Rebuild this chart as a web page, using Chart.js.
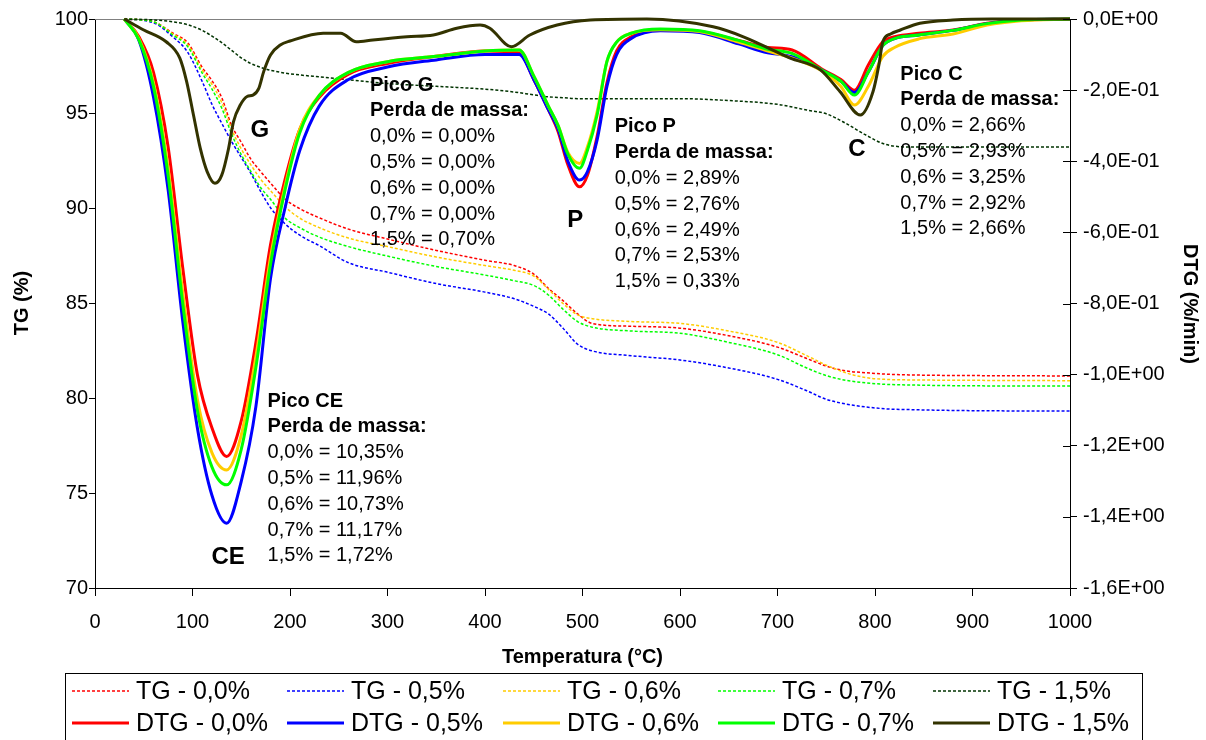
<!DOCTYPE html>
<html lang="pt">
<head>
<meta charset="UTF-8">
<title>TG / DTG</title>
<script src="https://cdn.jsdelivr.net/npm/chart.js@4"></script>
<style>
  body { margin: 0; background: #fff; }
  canvas { display: block; }
</style>
</head>
<body>
<canvas id="tgChart" width="1206" height="740"></canvas>
<script>
// TG curves (left axis, %)
const tgTemps = [30, 60, 80, 95, 110, 120, 130, 140, 150, 160, 170, 180, 195, 210, 230, 260, 300, 350, 400, 430,
                 450, 465, 480, 495, 510, 550, 600, 650, 700, 730, 750, 770, 790, 810, 840, 900, 1000];
const tg00 = [100, 99.85, 99.25, 98.75, 97.45, 96.75, 95.85, 94.4, 93.5, 92.6, 91.95, 91.35, 90.5, 90.0, 89.52, 88.92, 88.4, 87.8, 87.28, 87.0,
              86.55, 85.8, 85.15, 84.45, 83.95, 83.8, 83.7, 83.3, 82.7, 82.1, 81.7, 81.45, 81.35, 81.28, 81.23, 81.2, 81.18];
const tg05 = [100, 99.8, 99.05, 98.25, 96.7, 95.5, 94.5, 93.55, 92.7, 91.85, 90.9, 90.05, 89.2, 88.6, 88.05, 87.15, 86.65, 86.05, 85.6, 85.25,
              84.85, 84.45, 83.7, 82.85, 82.5, 82.25, 82.02, 81.6, 81.0, 80.4, 79.95, 79.7, 79.55, 79.45, 79.4, 79.35, 79.33];
const tg06 = [100, 99.85, 99.2, 98.65, 97.3, 96.55, 95.6, 94.2, 93.15, 92.3, 91.55, 90.95, 90.1, 89.5, 89.0, 88.45, 88.0, 87.45, 87.0, 86.75,
              86.45, 85.75, 85.0, 84.4, 84.2, 84.05, 83.95, 83.55, 82.95, 82.25, 81.75, 81.35, 81.1, 81.0, 80.97, 80.95, 80.93];
const tg07 = [100, 99.85, 99.15, 98.55, 97.15, 96.3, 95.3, 93.95, 92.85, 91.95, 91.1, 90.5, 89.5, 89.0, 88.5, 88.0, 87.5, 86.95, 86.5, 86.2,
              85.95, 85.45, 84.7, 84.05, 83.75, 83.55, 83.43, 82.95, 82.3, 81.6, 81.2, 80.95, 80.82, 80.74, 80.7, 80.66, 80.65];
const tg15 = [100, 99.95, 99.85, 99.7, 99.4, 99.1, 98.75, 98.35, 97.95, 97.65, 97.45, 97.3, 97.15, 97.05, 96.95, 96.8, 96.6, 96.45, 96.3, 96.15,
              96.0, 95.9, 95.85, 95.8, 95.8, 95.8, 95.8, 95.7, 95.5, 95.2, 95.0, 94.5, 93.9, 93.4, 93.25, 93.25, 93.25];

// DTG curves (right axis, %/min)
const dtgTemps = [30, 45, 60, 75, 90, 105, 120, 135, 150, 165, 180, 195, 210, 230, 260, 300, 350, 400, 435, 450,
                  465, 475, 485, 497, 505, 515, 525, 535, 550, 580, 620, 660, 690, 715, 745, 765, 779, 793, 808, 820,
                  845, 880, 915, 950, 1000];
const dtg00 = [0, -0.05, -0.15, -0.36, -0.7, -1.0, -1.15, -1.23, -1.13, -0.91, -0.635, -0.45, -0.31, -0.22, -0.155, -0.125, -0.105, -0.09, -0.095, -0.17,
               -0.255, -0.317, -0.41, -0.472, -0.44, -0.33, -0.18, -0.09, -0.05, -0.03, -0.035, -0.06, -0.08, -0.087, -0.14, -0.17, -0.2, -0.13, -0.064, -0.05,
               -0.04, -0.031, -0.012, -0.003, 0];
const dtg05 = [0, -0.06, -0.22, -0.48, -0.85, -1.15, -1.34, -1.418, -1.3, -1.09, -0.73, -0.53, -0.37, -0.245, -0.17, -0.135, -0.115, -0.1, -0.1, -0.17,
               -0.255, -0.31, -0.4, -0.453, -0.43, -0.34, -0.19, -0.1, -0.055, -0.033, -0.038, -0.07, -0.095, -0.106, -0.143, -0.175, -0.207, -0.15, -0.075, -0.055,
               -0.045, -0.032, -0.013, -0.003, 0];
const dtg06 = [0, -0.055, -0.18, -0.42, -0.77, -1.07, -1.22, -1.268, -1.17, -0.95, -0.67, -0.47, -0.31, -0.215, -0.15, -0.12, -0.105, -0.09, -0.087, -0.16,
               -0.245, -0.3, -0.375, -0.406, -0.36, -0.26, -0.12, -0.065, -0.04, -0.03, -0.035, -0.065, -0.09, -0.11, -0.145, -0.19, -0.242, -0.19, -0.105, -0.08,
               -0.056, -0.042, -0.017, -0.005, 0];
const dtg07 = [0, -0.058, -0.19, -0.44, -0.8, -1.1, -1.26, -1.31, -1.21, -0.98, -0.69, -0.48, -0.32, -0.215, -0.15, -0.12, -0.105, -0.09, -0.087, -0.16,
               -0.245, -0.3, -0.38, -0.42, -0.37, -0.27, -0.12, -0.065, -0.04, -0.028, -0.033, -0.06, -0.085, -0.097, -0.143, -0.175, -0.214, -0.15, -0.075, -0.055,
               -0.045, -0.032, -0.013, -0.003, 0];
const dtg15Temps = [30, 50, 73, 87, 94, 101, 108, 115, 123, 130, 137, 142, 149, 156, 162, 168, 173, 180, 190, 200,
                    234, 252, 268, 285, 320, 347, 371, 395, 405, 427, 446, 474, 508, 566, 634, 665, 713, 744, 764, 785,
                    798, 804, 808, 816, 826, 846, 880, 920, 1000];
const dtg15 = [0, -0.031, -0.064, -0.11, -0.176, -0.27, -0.364, -0.429, -0.462, -0.439, -0.364, -0.289, -0.242, -0.218, -0.214, -0.195, -0.148, -0.101, -0.073, -0.062,
               -0.04, -0.04, -0.064, -0.059, -0.05, -0.045, -0.026, -0.017, -0.026, -0.078, -0.045, -0.017, -0.003, 0, -0.022, -0.05, -0.11, -0.143, -0.204, -0.27,
               -0.204, -0.129, -0.064, -0.042, -0.031, -0.012, -0.003, 0, 0];

const tgLabels = ['TG - 0,0%', 'TG - 0,5%', 'TG - 0,6%', 'TG - 0,7%', 'TG - 1,5%'];
const dtgLabels = ['DTG - 0,0%', 'DTG - 0,5%', 'DTG - 0,6%', 'DTG - 0,7%', 'DTG - 1,5%'];
const tgColors = ['#ff0000', '#0000ff', '#ffcc00', '#00ff00', '#003300'];
const dtgColors = ['#ff0000', '#0000ff', '#ffcc00', '#00ff00', '#333300'];

// text boxes on the plot, anchored in (temperature, TG) units
const peakNotes = [
  { t: 177, v: 79.86, lines: ['Pico CE', 'Perda de massa:', '0,0% = 10,35%', '0,5% = 11,96%', '0,6% = 10,73%', '0,7% = 11,17%', '1,5% = 1,72%'] },
  { t: 282, v: 96.52, lines: ['Pico G', 'Perda de massa:', '0,0% = 0,00%', '0,5% = 0,00%', '0,6% = 0,00%', '0,7% = 0,00%', '1,5% = 0,70%'] },
  { t: 533, v: 94.31, lines: ['Pico P', 'Perda de massa:', '0,0% = 2,89%', '0,5% = 2,76%', '0,6% = 2,49%', '0,7% = 2,53%', '1,5% = 0,33%'] },
  { t: 826, v: 97.1, lines: ['Pico C', 'Perda de massa:', '0,0% = 2,66%', '0,5% = 2,93%', '0,6% = 3,25%', '0,7% = 2,92%', '1,5% = 2,66%'] }
];
const peakLetters = [
  { t: 136.5, v: 71.64, text: 'CE' },
  { t: 169, v: 94.15, text: 'G' },
  { t: 492.5, v: 89.4, text: 'P' },
  { t: 781.5, v: 93.1, text: 'C' }
];

const FONT = "'Liberation Sans', Arial, sans-serif";
Chart.defaults.font.family = FONT;
Chart.defaults.font.size = 20;
Chart.defaults.color = '#000';

function pts(xs, ys) {
  return xs.map((x, i) => ({ x: x, y: ys[i] }));
}

function sci(v) {
  if (Math.abs(v) < 1e-9) return '0,0E+00';
  const parts = Number(v).toExponential(1).split('e');
  const e = parseInt(parts[1], 10);
  return parts[0].replace('.', ',') + 'E' + (e < 0 ? '-' : '+') + String(Math.abs(e)).padStart(2, '0');
}

const tgSeries = [tg00, tg05, tg06, tg07, tg15];
const dtgSeries = [
  pts(dtgTemps, dtg00), pts(dtgTemps, dtg05), pts(dtgTemps, dtg06), pts(dtgTemps, dtg07), pts(dtg15Temps, dtg15)
];

const datasets = [];
tgSeries.forEach((vals, i) => {
  datasets.push({
    label: tgLabels[i], data: pts(tgTemps, vals), yAxisID: 'y',
    borderColor: tgColors[i], borderWidth: 1.5, borderDash: [3, 2],
    pointRadius: 0, cubicInterpolationMode: 'monotone', clip: false, order: 20 - i
  });
});
dtgSeries.forEach((data, i) => {
  datasets.push({
    label: dtgLabels[i], data: data, yAxisID: 'y2',
    borderColor: dtgColors[i], borderWidth: 3,
    pointRadius: 0, cubicInterpolationMode: 'monotone', clip: false, order: 10 - i
  });
});

const overlay = {
  id: 'overlay',
  beforeDatasetsDraw(chart) {
    const { ctx, chartArea: a } = chart;
    ctx.save();
    ctx.strokeStyle = '#808080';
    ctx.lineWidth = 1;
    ctx.beginPath();
    ctx.moveTo(a.left, a.top + 0.5);
    ctx.lineTo(a.right, a.top + 0.5);
    ctx.stroke();
    ctx.restore();
  },
  afterDraw(chart) {
    const { ctx, chartArea: a, scales } = chart;
    ctx.save();

    // inner half of the right-axis ticks
    ctx.strokeStyle = '#000';
    ctx.lineWidth = 1;
    scales.y2.ticks.forEach(t => {
      const py = Math.round(scales.y2.getPixelForValue(t.value)) + 0.5;
      ctx.beginPath();
      ctx.moveTo(a.right - 7, py);
      ctx.lineTo(a.right, py);
      ctx.stroke();
    });

    // axis titles
    ctx.fillStyle = '#000';
    ctx.textAlign = 'center';
    ctx.textBaseline = 'middle';
    ctx.font = 'bold 20px ' + FONT;
    ctx.fillText('Temperatura (°C)', (a.left + a.right) / 2, 657);
    ctx.save();
    ctx.translate(22, 303);
    ctx.rotate(-Math.PI / 2);
    ctx.fillText('TG (%)', 0, 0);
    ctx.restore();
    ctx.save();
    ctx.translate(1190, 304);
    ctx.rotate(Math.PI / 2);
    ctx.fillText('DTG (%/min)', 0, 0);
    ctx.restore();

    // peak notes
    ctx.textAlign = 'left';
    peakNotes.forEach(n => {
      const x0 = scales.x.getPixelForValue(n.t);
      const y0 = scales.y.getPixelForValue(n.v);
      n.lines.forEach((line, k) => {
        ctx.font = (k < 2 ? 'bold ' : '') + '20px ' + FONT;
        ctx.fillText(line, x0, y0 + k * 25.8);
      });
    });
    ctx.textAlign = 'center';
    ctx.font = 'bold 24px ' + FONT;
    peakLetters.forEach(p => {
      ctx.fillText(p.text, scales.x.getPixelForValue(p.t), scales.y.getPixelForValue(p.v));
    });

    // legend box
    ctx.strokeStyle = '#000';
    ctx.strokeRect(65.5, 673.5, 1077, 80);
    const colX = [72, 287, 503, 718, 933];
    const rowY = [691, 723];
    ctx.font = '25px ' + FONT;
    ctx.textAlign = 'left';
    chart.data.datasets.forEach((ds, i) => {
      const row = i < 5 ? 0 : 1;
      const col = i % 5;
      const x = colX[col];
      const y = rowY[row];
      ctx.save();
      ctx.strokeStyle = ds.borderColor;
      ctx.lineWidth = ds.borderWidth;
      ctx.setLineDash(ds.borderDash || []);
      ctx.beginPath();
      ctx.moveTo(x, y);
      ctx.lineTo(x + 57, y);
      ctx.stroke();
      ctx.restore();
      ctx.fillText(ds.label, x + 64, y + 1);
    });
    ctx.restore();
  }
};

new Chart(document.getElementById('tgChart'), {
  type: 'line',
  data: { datasets: datasets },
  options: {
    responsive: false,
    animation: false,
    layout: { padding: { top: 19 } },
    plugins: { legend: { display: false }, tooltip: { enabled: false } },
    scales: {
      x: {
        type: 'linear', min: 0, max: 1000,
        ticks: { stepSize: 100, autoSkip: false, maxRotation: 0, padding: 14, callback: v => String(v) },
        grid: { drawOnChartArea: false, tickLength: 8, color: '#000' },
        border: { color: '#000' },
        afterFit: s => { s.height = 152; }
      },
      y: {
        position: 'left', min: 70, max: 100,
        ticks: { stepSize: 5, padding: 1 },
        grid: { drawOnChartArea: false, tickLength: 6, color: '#000' },
        border: { color: '#000' },
        afterFit: s => { s.width = 95; }
      },
      y2: {
        position: 'right', min: -1.6, max: 0,
        ticks: { stepSize: 0.2, padding: 6, callback: v => sci(v) },
        grid: { drawOnChartArea: false, tickLength: 7, color: '#000' },
        border: { color: '#000' },
        afterFit: s => { s.width = 136; }
      }
    }
  },
  plugins: [overlay]
});
</script>
</body>
</html>
